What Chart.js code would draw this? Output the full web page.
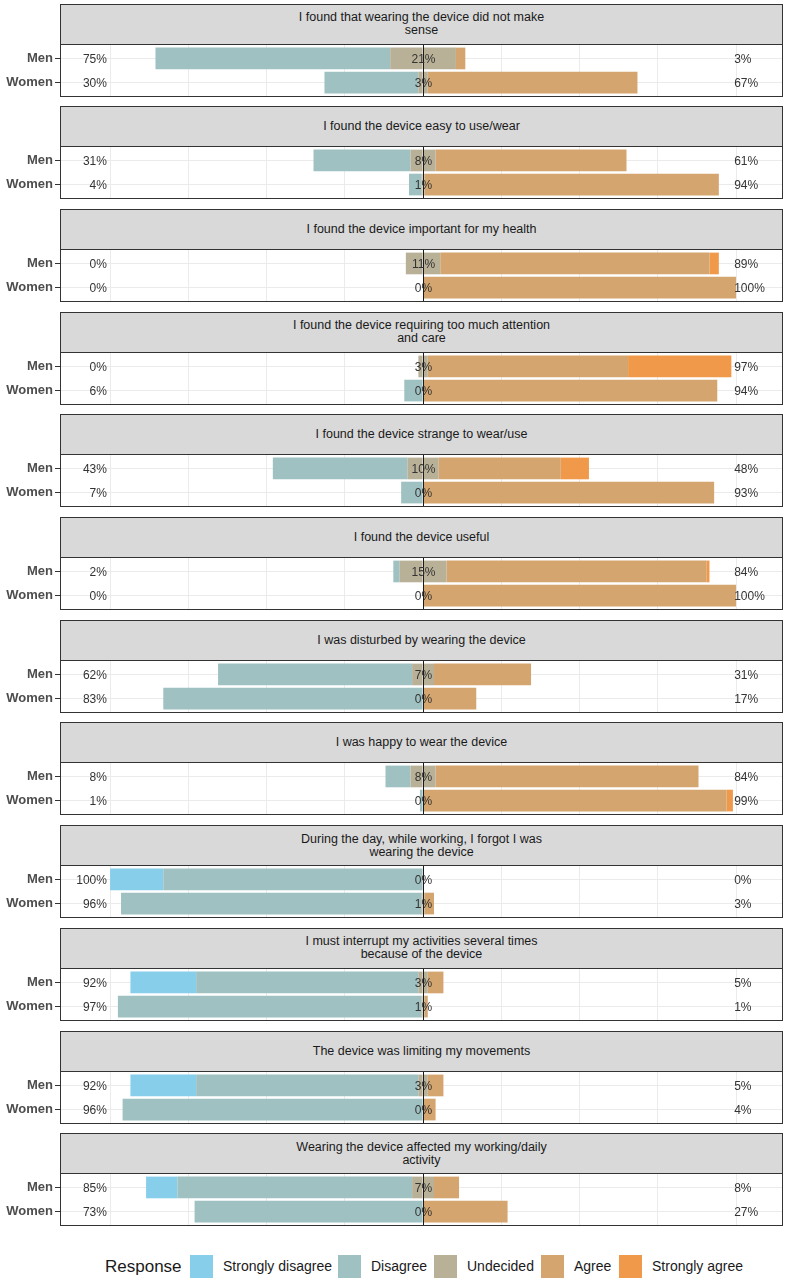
<!DOCTYPE html>
<html>
<head>
<meta charset="utf-8">
<script src="https://cdn.jsdelivr.net/npm/chart.js@4.4.0/dist/chart.umd.min.js"></script>
<style>
body{margin:0;background:#fff;font-family:"Liberation Sans",Arial,sans-serif;}
#wrap{position:relative;width:789px;height:1280px;overflow:hidden;}
.panel{position:absolute;left:0;width:789px;height:94px;}
.strip{position:absolute;left:60px;top:0;width:723px;height:41px;background:#D9D9D9;border:1px solid #333;box-sizing:border-box;
  display:flex;align-items:center;justify-content:center;text-align:center;white-space:pre-line;font-size:12.5px;line-height:13px;color:#1a1a1a;}
.panel canvas{position:absolute;left:0;top:40px;}
#legend{position:absolute;left:0;top:1255px;width:789px;height:24px;font-size:14px;color:#1a1a1a;}
#legend span{position:absolute;top:0;line-height:23px;white-space:nowrap;}
#legend i{position:absolute;top:0;width:23px;height:23px;}
</style>
</head>
<body>
<div id="wrap"></div>
<script>
/* 문항 */
var items = [
    'I found that wearing the device did not make\nsense',
    'I found the device easy to use/wear',
    'I found the device important for my health',
    'I found the device requiring too much attention\nand care',
    'I found the device strange to wear/use',
    'I found the device useful',
    'I was disturbed by wearing the device',
    'I was happy to wear the device',
    'During the day, while working, I forgot I was\nwearing the device',
    'I must interrupt my activities several times\nbecause of the device',
    'The device was limiting my movements',
    'Wearing the device affected my working/daily\nactivity'
];
var groups = ['Men', 'Women'];
var responses = ['Strongly disagree', 'Disagree', 'Undecided', 'Agree', 'Strongly agree'];

/* 응답 비율 (%) : 문항별 [Men, Women] */
var stronglyDisagree = [[0,0],[0,0],[0,0],[0,0],[0,0],[0,0],[0,0],[0,0],[17,0],[21,0],[21,0],[10,0]];
var disagree         = [[75,30],[31,4],[0,0],[0,6],[43,7],[2,0],[62,83],[8,1],[83,96],[71,97],[71,96],[75,73]];
var undecided        = [[21,3],[8,1],[11,0],[3,0],[10,0],[15,0],[7,0],[8,0],[0,1],[3,1],[3,0],[7,0]];
var agree            = [[3,67],[61,94],[86,100],[64,94],[39,93],[83,100],[31,17],[84,97],[0,3],[5,1],[5,4],[8,27]];
var stronglyAgree    = [[0,0],[0,0],[3,0],[33,0],[9,0],[1,0],[0,0],[0,2],[0,0],[0,0],[0,0],[0,0]];

var xTicks = [-100, -75, -50, -25, 0, 25, 50, 75, 100];
var colors = ['#87CEEB', '#A0C1C1', '#B9B197', '#D4A56F', '#F0994A'];
var FONT = '"Liberation Sans", Arial, sans-serif';

var wrap = document.getElementById('wrap');

/* 퍼센트 라벨, 0 기준선, 패널 테두리 */
var likertPlugin = {
    id: 'likert',
    afterDatasetsDraw: function(chart){
        var ctx = chart.ctx;
        var area = chart.chartArea;
        var xs = chart.scales.x, ys = chart.scales.y;
        var k = chart.options.plugins.likert.item;
        ctx.save();
        var x0 = Math.round(xs.getPixelForValue(0)) + 0.5;
        ctx.strokeStyle = '#1a1a1a';
        ctx.lineWidth = 1;
        ctx.beginPath();
        ctx.moveTo(x0, area.top);
        ctx.lineTo(x0, area.bottom);
        ctx.stroke();

        ctx.font = '12px ' + FONT;
        ctx.fillStyle = '#333';
        ctx.textBaseline = 'middle';
        for(var i = 0; i < groups.length; i++){
            var yp = ys.getPixelForValue(i) + 1;
            var left = stronglyDisagree[k][i] + disagree[k][i];
            var right = agree[k][i] + stronglyAgree[k][i];
            ctx.textAlign = 'right';
            ctx.fillText(left + '%', xs.getPixelForValue(-101), yp);
            ctx.textAlign = 'left';
            ctx.fillText(right + '%', xs.getPixelForValue(99.4), yp);
            ctx.textAlign = 'center';
            ctx.fillText(undecided[k][i] + '%', x0, yp);
        }
        ctx.strokeStyle = '#333';
        ctx.strokeRect(area.left + 0.5, area.top + 0.5, area.right - area.left - 1, area.bottom - area.top - 1);
        ctx.restore();
    }
};

function pts(arr, sign){
    return arr.map(function(v, i){ return {x: sign * v, y: i}; });
}

function makePanel(k){
    var panel = document.createElement('div');
    panel.className = 'panel';
    panel.style.top = (3.5 + k * 102.7) + 'px';
    var strip = document.createElement('div');
    strip.className = 'strip';
    strip.textContent = items[k];
    panel.appendChild(strip);
    var cv = document.createElement('canvas');
    cv.width = 789;
    cv.height = 53;
    panel.appendChild(cv);
    wrap.appendChild(panel);

    var half = undecided[k].map(function(v){ return v / 2; });
    var datasets = [
        {label: responses[2], data: pts(half, -1), backgroundColor: colors[2]},
        {label: responses[2], data: pts(half, 1), backgroundColor: colors[2]},
        {label: responses[1], data: pts(disagree[k], -1), backgroundColor: colors[1]},
        {label: responses[3], data: pts(agree[k], 1), backgroundColor: colors[3]},
        {label: responses[0], data: pts(stronglyDisagree[k], -1), backgroundColor: colors[0]},
        {label: responses[4], data: pts(stronglyAgree[k], 1), backgroundColor: colors[4]}
    ];
    datasets.forEach(function(d){
        d.barPercentage = 0.9;
        d.categoryPercentage = 1;
        d.borderWidth = 0;
    });

    new Chart(cv, {
        type: 'bar',
        data: {datasets: datasets},
        options: {
            indexAxis: 'y',
            responsive: false,
            animation: false,
            layout: {padding: {left: 0, right: 6, top: 0, bottom: 0}},
            plugins: {legend: {display: false}, tooltip: {enabled: false}, likert: {item: k}},
            scales: {
                x: {
                    type: 'linear', min: -116, max: 115, stacked: true, offset: false,
                    afterBuildTicks: function(s){ s.ticks = xTicks.map(function(v){ return {value: v}; }); },
                    afterFit: function(s){ s.height = 0; s.paddingLeft = 0; s.paddingRight = 0; },
                    ticks: {display: false},
                    grid: {color: '#EBEBEB', drawTicks: false, offset: false},
                    border: {display: false}
                },
                y: {
                    type: 'linear', min: -0.6, max: 1.6, reverse: true, stacked: true, offset: false,
                    afterBuildTicks: function(s){ s.ticks = [{value: 0}, {value: 1}]; },
                    afterFit: function(s){ s.width = 60; s.paddingTop = 0; s.paddingBottom = 0; },
                    ticks: {
                        callback: function(v){ return groups[v]; },
                        font: {family: FONT, size: 13, weight: 'bold'},
                        color: '#4D4D4D',
                        padding: 2
                    },
                    grid: {color: '#EBEBEB', tickColor: '#333', tickLength: 5, offset: false},
                    border: {display: false}
                }
            }
        },
        plugins: [likertPlugin]
    });
}

for(var k = 0; k < items.length; k++){
    makePanel(k);
}

/* 범례 */
var legend = document.createElement('div');
legend.id = 'legend';
var ttl = document.createElement('span');
ttl.textContent = 'Response';
ttl.style.left = '105px';
ttl.style.fontSize = '17px';
legend.appendChild(ttl);
var keyX = [190, 338, 434, 541, 619];
for(var i = 0; i < responses.length; i++){
    var box = document.createElement('i');
    box.style.left = keyX[i] + 'px';
    box.style.background = colors[i];
    legend.appendChild(box);
    var txt = document.createElement('span');
    txt.textContent = responses[i];
    txt.style.left = (keyX[i] + 33) + 'px';
    legend.appendChild(txt);
}
wrap.appendChild(legend);
</script>
</body>
</html>
